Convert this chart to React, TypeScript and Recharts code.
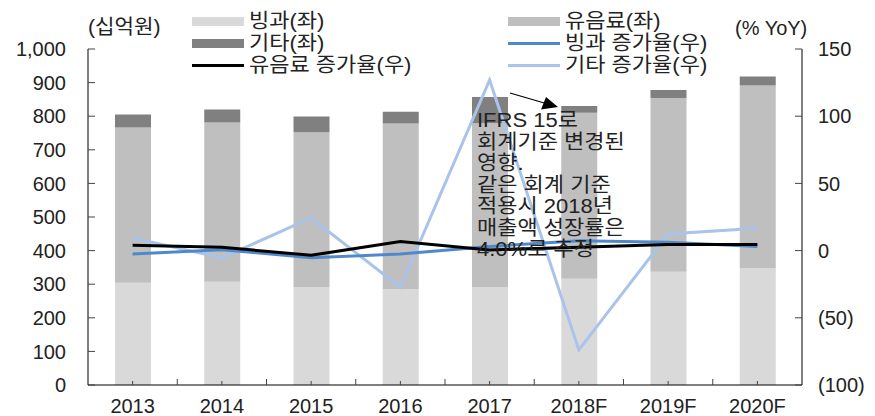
import React from 'react';
import { ComposedChart, Bar, Line, XAxis, YAxis } from 'recharts';

const years = ['2013', '2014', '2015', '2016', '2017', '2018F', '2019F', '2020F'];
const iceCream = [304, 307, 292, 286, 292, 316, 337, 348];
const beverage = [462, 474, 460, 492, 487, 494, 517, 543];
const others = [39, 39, 47, 35, 78, 20, 24, 27];
const iceCreamYoY = [-2.5, 0.7, -5.4, -2.5, 3.0, 7.4, 6.2, 3.0];
const beverageYoY = [4.0, 2.5, -3.5, 6.7, 0.5, 2.5, 4.5, 4.5];
const othersYoY = [9.4, -5.4, 24.3, -27.3, 127, -73.9, 12.4, 16.6];
const leftTicks = [0, 100, 200, 300, 400, 500, 600, 700, 800, 900, 1000];
const rightTicks = [-100, -50, 0, 50, 100, 150];
const note = ['IFRS 15로', '회계기준 변경된', '영향.', '같은 회계 기준', '적용시 2018년', '매출액 성장률은', '4.0%로 추정'];

const data = years.map((y, i) => ({
  year: y,
  ice: iceCream[i],
  bev: beverage[i],
  etc: others[i],
  iceYoY: iceCreamYoY[i],
  bevYoY: beverageYoY[i],
  etcYoY: othersYoY[i],
}));

const W = 875;
const H = 416;
const LEFT_W = 88;
const RIGHT_W = 73;
const BAND = (W - LEFT_W - RIGHT_W) / years.length;
const FONT = '"Liberation Sans", Arial, "Noto Sans CJK KR", sans-serif';
const TXT = '#222';

const C_ICE = '#D9D9D9';
const C_BEV = '#BFBFBF';
const C_ETC = '#808080';
const C_ICE_L = '#4F89C9';
const C_ETC_L = '#A9C3EA';

const fmtLeft = (v: number) => v.toLocaleString('en-US');
const fmtRight = (v: number) => (v < 0 ? `(${Math.abs(v)})` : `${v}`);

const LeftTick = (p: any) => (
  <g>
    <line x1={p.x} x2={p.x + 7} y1={p.y} y2={p.y} stroke="#444" />
    <text x={p.x - 22} y={p.y} dy="0.36em" textAnchor="end" fontSize={20} fontFamily={FONT} fill={TXT}>
      {fmtLeft(p.payload.value)}
    </text>
  </g>
);

const RightTick = (p: any) => (
  <g>
    <line x1={p.x - 7} x2={p.x} y1={p.y} y2={p.y} stroke="#444" />
    <text x={p.x + 16} y={p.y} dy="0.36em" textAnchor="start" fontSize={20} fontFamily={FONT} fill={TXT}>
      {fmtRight(p.payload.value)}
    </text>
  </g>
);

const XTick = (p: any) => (
  <g>
    <line x1={p.x} x2={p.x} y1={p.y - 4} y2={p.y} stroke="#444" />
    {p.index > 0 && <line x1={p.x - BAND / 2} x2={p.x - BAND / 2} y1={p.y - 6} y2={p.y} stroke="#444" />}
    <text x={p.x} y={p.y + 21} dy="0.36em" textAnchor="middle" fontSize={20} fontFamily={FONT} fill={TXT}>
      {p.payload.value}
    </text>
  </g>
);

const legendItems = [
  { label: '빙과(좌)', color: C_ICE, kind: 'bar', x: 192, row: 0 },
  { label: '유음료(좌)', color: C_BEV, kind: 'bar', x: 508, row: 0 },
  { label: '기타(좌)', color: C_ETC, kind: 'bar', x: 192, row: 1 },
  { label: '빙과 증가율(우)', color: C_ICE_L, kind: 'line', x: 508, row: 1 },
  { label: '유음료 증가율(우)', color: '#000', kind: 'line', x: 192, row: 2 },
  { label: '기타 증가율(우)', color: C_ETC_L, kind: 'line', x: 508, row: 2 },
];

const wide: React.CSSProperties = {
  position: 'absolute',
  fontSize: 20,
  lineHeight: '26px',
  whiteSpace: 'nowrap',
  transform: 'scaleX(1.1)',
  transformOrigin: 'left center',
};

const ChartLegend = () => (
  <div style={{ position: 'absolute', left: 0, top: 0, width: W, height: 80, fontFamily: FONT, color: TXT, pointerEvents: 'none' }}>
    <div style={{ ...wide, left: 88, top: 14, transform: 'scaleX(1.06)' }}>(십억원)</div>
    <div style={{ ...wide, left: 735, top: 15, transform: 'scaleX(1.0)' }}>(% YoY)</div>
    {legendItems.map((it) => {
      const cy = 21 + it.row * 22;
      return (
        <div key={it.label}>
          <div
            style={{
              position: 'absolute',
              left: it.x,
              top: it.kind === 'bar' ? cy - 4 : cy - 1.5,
              width: 52,
              height: it.kind === 'bar' ? 9 : 3,
              background: it.color,
            }}
          />
          <div style={{ ...wide, left: it.x + 57, top: cy - 13 }}>{it.label}</div>
        </div>
      );
    })}
  </div>
);

export default function App() {
  return (
    <div style={{ position: 'relative', width: W, height: H }}>
      <style>{'body{margin:0}'}</style>
      <ComposedChart width={W} height={H} data={data} margin={{ top: 49, right: 0, bottom: 0, left: 0 }}>
        <XAxis
          dataKey="year"
          height={31}
          tickSize={0}
          tickMargin={0}
          tickLine={false}
          tick={XTick}
          axisLine={{ stroke: '#000' }}
          interval={0}
        />
        <YAxis
          yAxisId="left"
          width={LEFT_W}
          domain={[0, 1000]}
          ticks={leftTicks}
          tickSize={0}
          tickMargin={0}
          tickLine={false}
          tick={LeftTick}
          axisLine={{ stroke: '#000' }}
          interval={0}
        />
        <YAxis
          yAxisId="right"
          orientation="right"
          width={RIGHT_W}
          domain={[-100, 150]}
          ticks={rightTicks}
          tickSize={0}
          tickMargin={0}
          tickLine={false}
          tick={RightTick}
          axisLine={{ stroke: '#000' }}
          interval={0}
        />
        <Bar yAxisId="left" dataKey="ice" stackId="s" fill={C_ICE} barSize={36} isAnimationActive={false} />
        <Bar yAxisId="left" dataKey="bev" stackId="s" fill={C_BEV} barSize={36} isAnimationActive={false} />
        <Bar yAxisId="left" dataKey="etc" stackId="s" fill={C_ETC} barSize={36} isAnimationActive={false} />
        <Line yAxisId="right" dataKey="etcYoY" stroke={C_ETC_L} strokeWidth={3} dot={false} type="linear" isAnimationActive={false} />
        <Line yAxisId="right" dataKey="iceYoY" stroke={C_ICE_L} strokeWidth={3} dot={false} type="linear" isAnimationActive={false} />
        <Line yAxisId="right" dataKey="bevYoY" stroke="#000" strokeWidth={3} dot={false} type="linear" isAnimationActive={false} />
      </ComposedChart>
      <ChartLegend />
      <svg width={W} height={H} style={{ position: 'absolute', left: 0, top: 0, pointerEvents: 'none' }}>
        <line x1={510} y1={93} x2={546} y2={103.5} stroke="#000" strokeWidth={1.2} />
        <polygon points="558,107 541,109.5 546,97" fill="#000" />
      </svg>
      <div
        style={{
          position: 'absolute',
          left: 477,
          top: 110,
          fontFamily: FONT,
          fontSize: 20,
          lineHeight: '21.5px',
          color: TXT,
          whiteSpace: 'nowrap',
          pointerEvents: 'none',
          transform: 'scaleX(1.1)',
          transformOrigin: 'left top',
        }}
      >
        {note.map((l) => (
          <div key={l}>{l}</div>
        ))}
      </div>
    </div>
  );
}
